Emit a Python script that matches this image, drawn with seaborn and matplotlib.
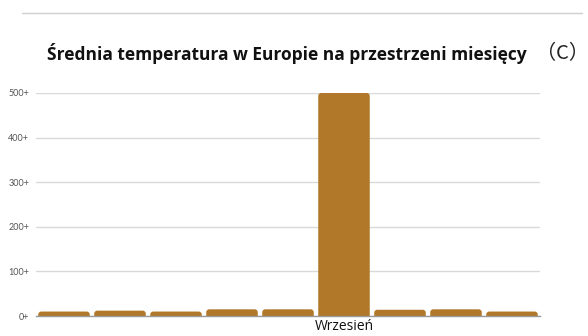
import matplotlib
matplotlib.use("Agg")
import matplotlib.pyplot as plt
import seaborn as sns
import pandas as pd
from matplotlib.patches import FancyBboxPatch
from matplotlib.lines import Line2D

months = ["Kwiecień", "Maj", "Czerwiec", "Lipiec", "Sierpień",
          "Wrzesień", "Październik", "Listopad", "Grudzień"]
temps = [10, 12, 10, 15, 15, 500, 14, 15, 10]
x_tick_labels = ["", "", "", "", "", "Wrzesień", "", "", ""]
y_ticks = [0, 100, 200, 300, 400, 500]
y_tick_labels = ["0+", "100+", "200+", "300+", "400+", "500+"]
title = "Średnia temperatura w Europie na przestrzeni miesięcy"
unit = "（C）"

sns.set_theme(style="white")
plt.rcParams["font.family"] = ["Open Sans", "DejaVu Sans"]

W, H = 588, 336
fig = plt.figure(figsize=(W / 100, H / 100), dpi=100)
ax = fig.add_axes([36 / W, (H - 316) / H, (540 - 36) / W, (316 - 93) / H])

df = pd.DataFrame({"month": months, "temp": temps})
bar_color = "#B07828"
sns.barplot(data=df, x="month", y="temp", color=bar_color, width=0.92,
            saturation=1, ax=ax, zorder=3)

ax.set_xlim(-0.5, len(months) - 0.5)
ax.set_ylim(0, 500)

# rounded top corners (bottom corners pushed below the axis and clipped)
fig.canvas.draw()
px_per_x = ax.bbox.width / len(months)
px_per_y = ax.bbox.height / 500
r_px = 3.0
aspect = px_per_x / px_per_y
extra = 8 / px_per_y
for p in list(ax.patches):
    x0, y0 = p.get_x(), p.get_y()
    w, h = p.get_width(), p.get_height()
    rr = r_px / px_per_x
    fb = FancyBboxPatch((x0, y0 - extra), w, h + extra,
                        boxstyle=f"round,pad=0,rounding_size={rr}",
                        mutation_aspect=aspect,
                        facecolor=bar_color, edgecolor="none", zorder=3,
                        clip_on=True)
    p.remove()
    ax.add_patch(fb)

ax.set_yticks(y_ticks)
ax.set_yticklabels(y_tick_labels, fontsize=6.5, color="#555555",
                   family=["Lato", "DejaVu Sans"])
ax.set_xticks(range(len(months)))
ax.set_xticklabels(x_tick_labels, fontsize=10, color="#111111")
ax.tick_params(axis="y", length=0, pad=5)
ax.tick_params(axis="x", length=0, pad=2.5)
ax.set_xlabel("")
ax.set_ylabel("")
ax.grid(axis="y", color="#d9d9d9", linewidth=1, zorder=0)
ax.grid(axis="x", visible=False)
for s in ["top", "right", "left"]:
    ax.spines[s].set_visible(False)
ax.spines["bottom"].set_color("#999999")
ax.spines["bottom"].set_linewidth(1)
ax.spines["bottom"].set_zorder(4)

# top separator line
fig.add_artist(Line2D([22 / W, 582 / W], [1 - 12.5 / H, 1 - 12.5 / H],
                      color="#cfcfcf", linewidth=1))

fig.text(47 / W, 1 - 53 / H, title, fontsize=12.5, fontweight="bold",
         ha="left", va="center", color="#111111")
fig.text(563 / W, 1 - 54 / H, unit, fontsize=14.5,
         family=["Noto Sans CJK SC", "DejaVu Sans"],
         ha="center", va="center", color="#222222")

fig.savefig("out.png", dpi=100)
